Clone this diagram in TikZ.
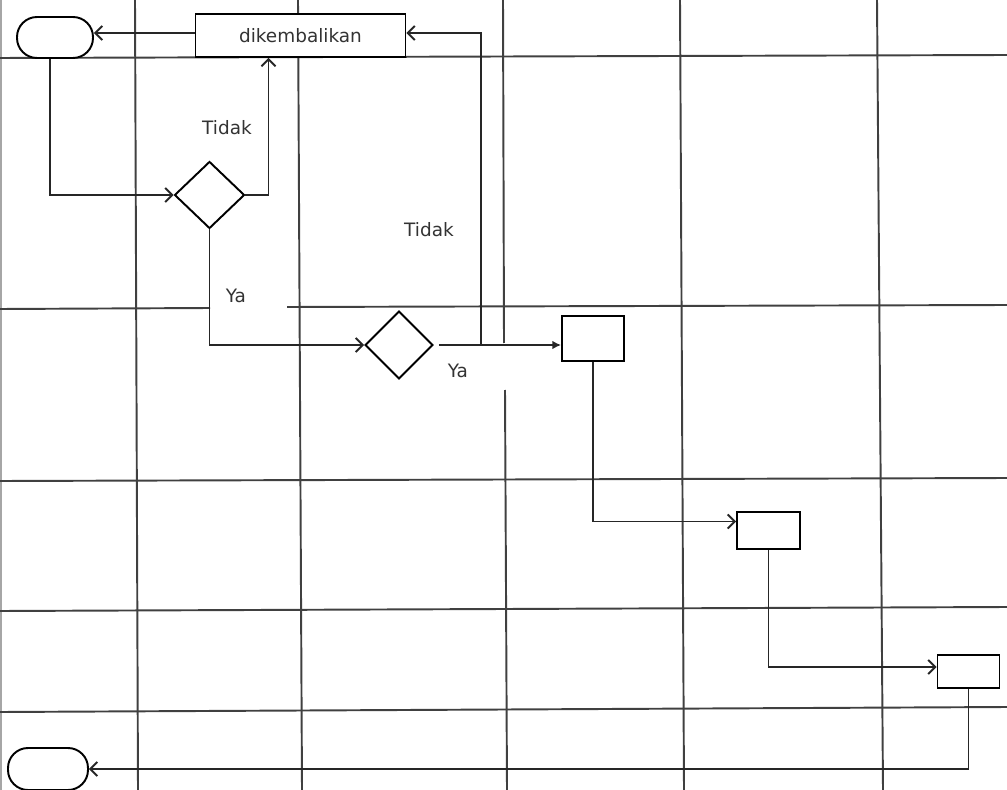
\documentclass[tikz,border=0pt]{standalone}
\usepackage{fontspec}
\setmainfont{DejaVu Sans}
\usepackage{tikz}
\usetikzlibrary{shapes.geometric,arrows.meta}

\begin{document}
\begin{tikzpicture}[x=0.02cm, y=-0.02cm, line width=1.1pt, font=\fontsize{10.5}{12}\selectfont,
  terminal/.style={draw, rounded corners=0.4cm, fill=white, minimum width=1.52cm, minimum height=0.82cm, inner sep=0pt},
  process/.style={draw, fill=white, minimum width=1.24cm, minimum height=0.9cm, inner sep=0pt},
  decision/.style={draw, diamond, fill=white, inner sep=0pt, minimum width=1.4cm, minimum height=1.34cm},
  flow/.style={-{Straight Barb[length=4pt,width=8pt]}, draw=black!85},
  lane/.style={draw=black!75},
  label/.style={text=black!80, inner sep=1pt}]
\useasboundingbox (0,0) rectangle (1007,790);

% swimlane grid
\draw[lane, black!35, line width=0.8pt] (1,0) -- (1,790);
\draw[lane] (0,58) -- (1007,55);
\draw[lane] (0,309) -- (210,308);
\draw[lane] (287,307) -- (1007,305);
\draw[lane] (0,481) -- (1007,478);
\draw[lane] (0,611) -- (1007,607);
\draw[lane] (0,712) -- (1007,707);
\draw[lane] (135,0) -- (138,790);
\draw[lane] (298,0) -- (302,790);
\draw[lane] (503,0) -- (504,343);
\draw[lane] (505,390) -- (507,790);
\draw[lane] (680,0) -- (684,790);
\draw[lane] (877,0) -- (883,790);

\node[terminal] (mulai) at (55,37.5) {};
\node[process, minimum width=4.2cm, minimum height=0.86cm] (kembali) at (300.5,35.5) {\textcolor{black!80}{dikembalikan}};
\node[decision] (cek1) at (209.5,195) {};
\node[decision, minimum width=1.36cm, minimum height=1.36cm] (cek2) at (399,345) {};
\node[process] (proses1) at (593,338.5) {};
\node[process, minimum width=1.26cm, minimum height=0.74cm] (proses2) at (768.5,530.5) {};
\node[process, minimum height=0.66cm] (proses3) at (968.5,671.5) {};
\node[terminal, minimum width=1.6cm, minimum height=0.84cm] (selesai) at (48,769) {};
\coordinate (cabang) at (481,345);

\node[label] (tidak1) at (227,128) {Tidak};
\node[label] (tidak2) at (429,230) {Tidak};
\node[label] (ya1) at (236,296) {Ya};
\node[label] (ya2) at (458,371) {Ya};

\draw[flow] ([yshift=0.05cm]kembali.west) -- ([yshift=0.05cm]kembali.west -| mulai.east);
\draw[flow] ([xshift=-0.1cm]mulai.south) |- (cek1.west);
\draw[flow] (cek1.east) -| ([xshift=-0.64cm]kembali.south);
\draw[flow] (cek1.south) |- (cek2.west);
\draw[-{Latex[length=5pt,width=5pt]}, draw=black!85, shorten <=0.1cm] (cek2.east) -- (cek2.east -| proses1.west);
\draw[flow] (cabang) |- ([yshift=0.05cm]kembali.east);
\draw[flow] (proses1.south) |- ([yshift=0.18cm]proses2.west);
\draw[flow] (proses2.south) |- ([yshift=0.09cm]proses3.west);
\draw[flow] (proses3.south) |- (selesai.east);
\end{tikzpicture}
\end{document}
